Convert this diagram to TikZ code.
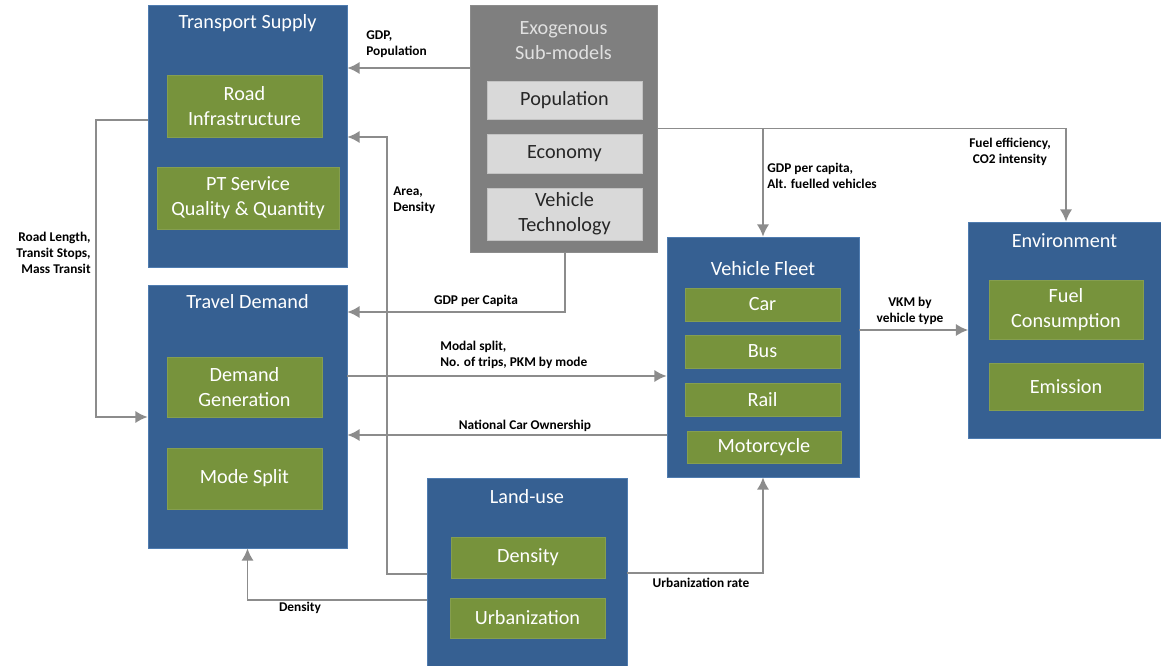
\documentclass[tikz,border=0pt]{standalone}
\usepackage{fontspec}
\setmainfont{Carlito}
\usepackage{tikz}
\usetikzlibrary{arrows.meta}
\definecolor{modblue}{HTML}{366092}
\definecolor{modedge}{HTML}{4F7CB0}
\definecolor{subgreen}{HTML}{77933C}
\definecolor{exogray}{HTML}{7F7F7F}
\definecolor{exolight}{HTML}{D9D9D9}
\definecolor{flowgray}{HTML}{8C8C8C}
\tikzstyle{modulebox} = [draw=modedge, fill=modblue, rectangle, inner sep=0pt]
\tikzstyle{exobox} = [draw=exogray!90, fill=exogray, rectangle, inner sep=0pt]
\tikzstyle{subbox} = [fill=subgreen, draw=subgreen!90!white, rectangle, text=white, align=center, inner sep=0pt, font=\fontsize{11.5}{14.2}\selectfont]
\tikzstyle{exosub} = [fill=exolight, draw=exolight!90!black, rectangle, text=black!85, align=center, inner sep=0pt, font=\fontsize{11.5}{14.2}\selectfont]
\tikzstyle{modtitle} = [text=white, align=center, font=\fontsize{11.5}{14.2}\selectfont]
\tikzstyle{flow} = [draw=flowgray, line width=1.1pt, -{Latex[length=7pt,width=7pt]}]
\tikzstyle{flowlabel} = [font=\fontsize{7.6}{9}\selectfont\bfseries, inner sep=0pt, text=black]

\begin{document}
\begin{tikzpicture}[x=0.02cm, y=-0.02cm]
		\useasboundingbox (0,0) rectangle (1161,666);
		% modules
		\node[modulebox, minimum width=3.98cm, minimum height=5.24cm] (ts) at (247.5,136) {};
		\node[modtitle] (tstitle) at (247.5,23) {Transport Supply};
		\node[subbox, minimum width=3.1cm, minimum height=1.24cm] (road) at (244.5,106) {Road\\Infrastructure};
		\node[subbox, minimum width=3.64cm, minimum height=1.24cm] (pt) at (248,198) {PT Service\\Quality \& Quantity};

		\node[exobox, minimum width=3.74cm, minimum height=4.94cm] (exo) at (563.5,128.5) {};
		\node[modtitle, text=white!88!black] (exotitle) at (563.5,40.5) {Exogenous\\Sub-models};
		\node[exosub, minimum width=3.1cm, minimum height=0.76cm] (pop) at (564.5,100) {Population};
		\node[exosub, minimum width=3.1cm, minimum height=0.78cm] (eco) at (564.5,153.5) {Economy};
		\node[exosub, minimum width=3.1cm, minimum height=1.04cm] (vtech) at (564.5,214) {Vehicle\\Technology};

		\node[modulebox, minimum width=3.98cm, minimum height=5.26cm] (td) at (247.5,416.5) {};
		\node[modtitle] (tdtitle) at (247.5,302) {Travel Demand};
		\node[subbox, minimum width=3.1cm, minimum height=1.2cm] (dgen) at (244.5,387) {Demand\\Generation};
		\node[subbox, minimum width=3.1cm, minimum height=1.22cm] (msplit) at (244.5,478.5) {Mode Split};

		\node[modulebox, minimum width=4.0cm, minimum height=3.8cm] (lu) at (527,573) {};
		\node[modtitle] (lutitle) at (527,497) {Land-use};
		\node[subbox, minimum width=3.08cm, minimum height=0.82cm] (dens) at (528,557.5) {Density};
		\node[subbox, minimum width=3.1cm, minimum height=0.8cm] (urb) at (527.5,618) {Urbanization};

		\node[modulebox, minimum width=3.84cm, minimum height=4.8cm] (vf) at (763,357) {};
		\node[modtitle] (vftitle) at (763,269) {Vehicle Fleet};
		\node[subbox, minimum width=3.1cm, minimum height=0.66cm] (car) at (762.5,304.5) {Car};
		\node[subbox, minimum width=3.1cm, minimum height=0.66cm] (bus) at (762.5,351.5) {Bus};
		\node[subbox, minimum width=3.1cm, minimum height=0.66cm] (rail) at (762.5,399.5) {Rail};
		\node[subbox, minimum width=3.08cm, minimum height=0.64cm] (moto) at (764,447) {Motorcycle};

		\node[modulebox, minimum width=3.9cm, minimum height=4.32cm] (env) at (1066,330) {};
		\node[modtitle] (envtitle) at (1064.5,241) {Environment};
		\node[subbox, minimum width=3.08cm, minimum height=1.18cm] (fuel) at (1066,309.5) {Fuel\\Consumption};
		\node[subbox, minimum width=3.08cm, minimum height=0.94cm] (emis) at (1066,386.5) {Emission};

		% connectors
		\coordinate (areabend) at (387,137);
		\coordinate (roadbend) at (96,417);
		\draw[flow] (exo.west |- 0,68) -- (ts.east |- 0,68);
		\draw[flow] (lu.west |- 0,574) -| (areabend) -- (ts.east |- areabend);
		\draw[flow] (ts.west |- 0,120) -| (roadbend) -- (td.west |- roadbend);
		\draw[flow] (exo.south -| 565,0) |- (td.east |- 0,312);
		\draw[flow] (td.east |- 0,376) -- (vf.west |- 0,376);
		\draw[flow] (vf.west |- 0,435) -- (td.east |- 0,435);
		\draw[flow] (lu.west |- 0,600) -| (td.south);
		\draw[flow] (lu.east |- 0,573) -| (vf.south);
		\draw[flow] (exo.east) -| (env.north);
		\draw[flow] (exo.east -| vf.north) -- (vf.north);
		\draw[flow] (vf.east |- 0,330) -- (env.west |- 0,330);

		% connector labels
		\node[flowlabel, anchor=west, align=left] (lgdp) at (366,44.5) {GDP,\\Population};
		\node[flowlabel, anchor=west, align=left] (larea) at (393,200) {Area,\\Density};
		\node[flowlabel, anchor=east, align=right] (lroad) at (91,253) {Road Length,\\Transit Stops,\\Mass Transit};
		\node[flowlabel] (lgdpcap) at (476,301) {GDP per Capita};
		\node[flowlabel, anchor=west, align=left] (lmodal) at (440,355) {Modal split,\\No. of trips, PKM by mode};
		\node[flowlabel] (lcarown) at (525,426) {National Car Ownership};
		\node[flowlabel] (ldens) at (300,608) {Density};
		\node[flowlabel] (lurb) at (701,583) {Urbanization rate};
		\node[flowlabel, anchor=west, align=left] (lfleet) at (767,176) {GDP per capita,\\Alt. fuelled vehicles};
		\node[flowlabel, align=center] (lfuel) at (1010,152) {Fuel efficiency,\\CO2 intensity};
		\node[flowlabel, align=center] (lvkm) at (910,311) {VKM by\\vehicle type};
	\end{tikzpicture}
\end{document}
